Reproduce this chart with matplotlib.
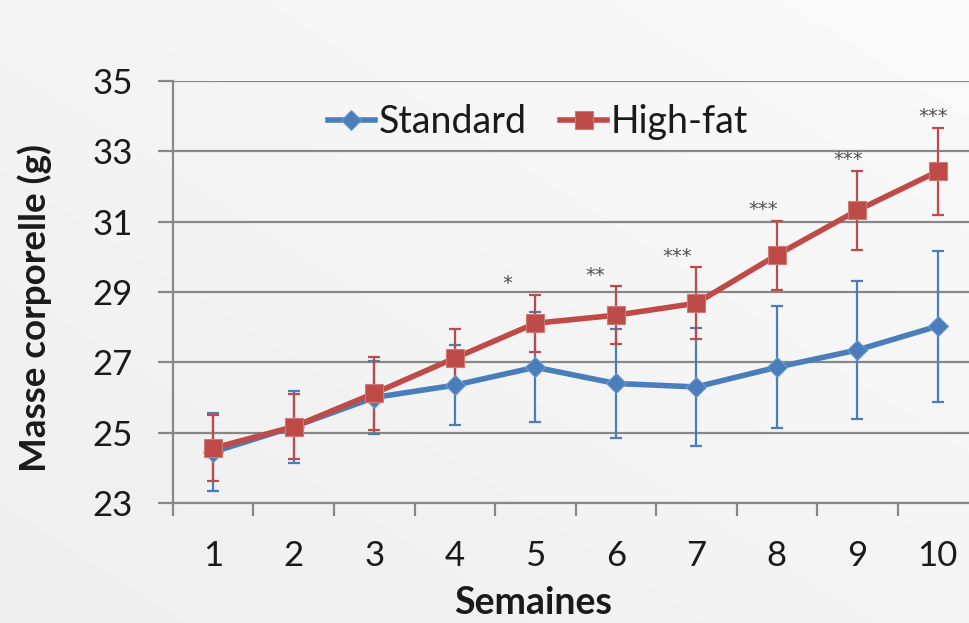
import numpy as np
import matplotlib
matplotlib.use("Agg")
import matplotlib.pyplot as plt
from matplotlib.colors import LinearSegmentedColormap

# Body mass over the diet weeks
weeks = [1, 2, 3, 4, 5, 6, 7, 8, 9, 10]
standard_mean = [24.45, 25.17, 26.00, 26.35, 26.86, 26.40, 26.30, 26.86, 27.35, 28.03]
standard_err = [1.10, 1.02, 1.05, 1.13, 1.57, 1.55, 1.68, 1.73, 1.97, 2.15]
highfat_mean = [24.56, 25.17, 26.12, 27.12, 28.11, 28.34, 28.68, 30.05, 31.32, 32.43]
highfat_err = [0.93, 0.93, 1.03, 0.82, 0.81, 0.83, 1.03, 0.98, 1.13, 1.24]
signif = ["", "", "", "", "*", "**", "***", "***", "***", "***"]
yticks = [23, 25, 27, 29, 31, 33, 35]

BLUE = "#4a7ebb"
RED = "#be4b48"
GRID = "#878787"
TEXT = "#1a1a1a"
FONT = "Lato"

fig = plt.figure(figsize=(9.70, 6.23), dpi=100)

# soft diagonal background shading
bg = fig.add_axes([0, 0, 1, 1], zorder=-10)
gx, gy = np.meshgrid(np.linspace(0, 1, 200), np.linspace(0, 1, 200))
grad = (gx + (1 - gy)) / 2
cmap = LinearSegmentedColormap.from_list("bg", ["#efefef", "#fafafb"])
bg.imshow(grad, cmap=cmap, aspect="auto", extent=[0, 1, 0, 1], origin="upper")
bg.axis("off")

ax = fig.add_axes([173 / 970, 1 - 503 / 623, 805 / 970, (503 - 81) / 623])
ax.set_facecolor("none")

ax.set_xlim(0.5, 10.5)
ax.set_ylim(23, 35)

for s in ["top", "right"]:
    ax.spines[s].set_visible(False)
for s in ["left", "bottom"]:
    ax.spines[s].set_color(GRID)
    ax.spines[s].set_linewidth(1.6)

ax.set_yticks(yticks)
ax.yaxis.grid(True, color=GRID, linewidth=1.6)
ax.set_axisbelow(True)
ax.tick_params(axis="y", length=11, width=1.6, color=GRID, pad=18,
               labelsize=25, labelcolor=TEXT)

ax.set_xticks(weeks)
ax.set_xticks(np.arange(0.5, 10.6, 1.0), minor=True)
ax.tick_params(axis="x", which="major", length=0, pad=27,
               labelsize=25, labelcolor=TEXT)
ax.tick_params(axis="x", which="minor", length=9.5, width=1.6, color=GRID)
for lab in ax.get_xticklabels() + ax.get_yticklabels():
    lab.set_fontfamily(FONT)

ax.errorbar(weeks, standard_mean, yerr=standard_err, fmt="none",
            ecolor=BLUE, elinewidth=1.6, capsize=4.5, capthick=1.6, zorder=3)
ax.errorbar(weeks, highfat_mean, yerr=highfat_err, fmt="none",
            ecolor=RED, elinewidth=1.6, capsize=4.5, capthick=1.6, zorder=4)

ax.plot(weeks, standard_mean, color=BLUE, linewidth=4, marker="D",
        markersize=10, markeredgecolor="#6f9ad0", markeredgewidth=0.8,
        label="Standard", zorder=5)
ax.plot(weeks, highfat_mean, color=RED, linewidth=4, marker="s",
        markersize=13.5, markeredgecolor="#cf7a77", markeredgewidth=0.8,
        label="High-fat", zorder=6)

# significance marks above the high-fat error bars
star_dx = [0, 0, 0, 0, -0.35, -0.26, -0.24, -0.17, -0.11, -0.06]
for w, m, e, s, dx in zip(weeks, highfat_mean, highfat_err, signif, star_dx):
    if s:
        ax.annotate(s, (w + dx, m + e), xytext=(0, 1), textcoords="offset points",
                    ha="center", va="bottom", fontsize=14, color="#505050",
                    family="DejaVu Sans")

leg = ax.legend(loc="center", bbox_to_anchor=((538 - 173) / 805, (503 - 122) / 422),
                ncol=2, frameon=False, handlelength=1.25,
                handletextpad=0.1, columnspacing=0.9,
                prop={"family": FONT, "size": 27})
for h in leg.legend_handles:
    h.set_linewidth(4)
for t in leg.get_texts():
    t.set_color(TEXT)

fig.text(35 / 970, 1 - 308 / 623, "Masse corporelle (g)", rotation=90,
         ha="center", va="center", fontsize=26.5, fontweight="bold",
         family=FONT, color=TEXT)
fig.text(533 / 970, 1 - 603 / 623, "Semaines", ha="center", va="center",
         fontsize=27, fontweight="bold", family=FONT, color=TEXT)

fig.savefig("out.png", dpi=100)
